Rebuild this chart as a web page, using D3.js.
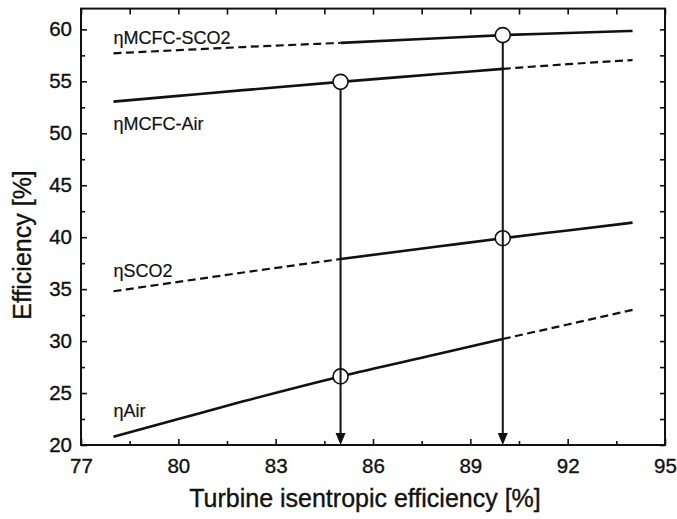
<!DOCTYPE html>
<html>
<head>
<meta charset="utf-8">
<script src="https://cdn.jsdelivr.net/npm/d3@7"></script>
<style>
  body { margin: 0; background: #fff; }
  text { font-family: "Liberation Sans", Arial, sans-serif; fill: #111; stroke: #111; stroke-width: 0.35px; }
</style>
</head>
<body>
<div id="chart"></div>
<script>
// x values shared by all curves (turbine isentropic efficiency, %)
var turbineEff = [78, 80, 82, 85, 88, 90, 92, 94];
// efficiency curves (%)
var etaMcfcSco2 = [57.7, 58.0, 58.3, 58.7, 59.15, 59.45, 59.65, 59.85];
var etaMcfcAir = [53.05, 53.6, 54.15, 54.95, 55.7, 56.2, 56.65, 57.05];
var etaSco2 = [34.8, 35.7, 36.6, 37.9, 39.1, 39.9, 40.65, 41.4];
var etaAir = [20.8, 22.5, 24.2, 26.6, 28.75, 30.2, 31.6, 33.0];
var seriesNames = ["ηMCFC-SCO2", "ηMCFC-Air", "ηSCO2", "ηAir"];
// part of each curve drawn solid (rest is dashed)
var solidFrom = [85, 78, 85, 78];
var solidTo = [94, 90, 94, 90];
// circled design points and label anchors
var markX = [90, 85, 90, 85];
var labelY = [58.6, 50.3, 36.2, 22.7];
var arrowX = [85, 90];
var xTicks = [77, 80, 83, 86, 89, 92, 95];
var yTicks = [20, 25, 30, 35, 40, 45, 50, 55, 60];

var svgWidth = 677;
var svgHeight = 519;
var margin = { top: 8.6, right: 12, bottom: 74, left: 81 };
var chartWidth = svgWidth - margin.left - margin.right;
var chartHeight = svgHeight - margin.top - margin.bottom;

var svg = d3.select("#chart").append("svg")
    .attr("width", svgWidth)
    .attr("height", svgHeight);
var chartGroup = svg.append("g")
    .attr("transform", `translate(${margin.left},${margin.top})`);

var xScale = d3.scaleLinear().domain([77, 95]).range([0, chartWidth]);
var yScale = d3.scaleLinear().domain([20, 62]).range([chartHeight, 0]);

// minor tick positions
var xMinor = d3.range(78.5, 95, 3);
var yMinor = d3.range(22.5, 62, 5);

function addAxis(axis, cls, tx, ty) {
    var g = chartGroup.append("g")
        .attr("class", cls)
        .attr("transform", `translate(${tx},${ty})`)
        .call(axis);
    g.select(".domain").remove();
    g.selectAll("line").attr("stroke", "#111").attr("stroke-width", 1.6);
    return g;
}

// bottom axis with labels, ticks pointing inward
var bottom = addAxis(d3.axisBottom(xScale).tickValues(xTicks).tickSize(-6).tickPadding(13.5), "x-axis", 0, chartHeight);
bottom.selectAll("text").attr("font-size", "20.5px");
addAxis(d3.axisBottom(xScale).tickValues(xMinor).tickSize(-4).tickFormat(""), "x-minor", 0, chartHeight);
addAxis(d3.axisTop(xScale).tickValues(xTicks.concat(xMinor)).tickSize(-6).tickFormat(""), "x-top", 0, 0);

var left = addAxis(d3.axisLeft(yScale).tickValues(yTicks).tickSize(-6).tickPadding(9), "y-axis", 0, 0);
left.selectAll("text").attr("font-size", "20.5px");
addAxis(d3.axisLeft(yScale).tickValues(yMinor).tickSize(-4).tickFormat(""), "y-minor", 0, 0);
addAxis(d3.axisRight(yScale).tickValues(yTicks.concat(yMinor)).tickSize(-5).tickFormat(""), "y-right", chartWidth, 0);

// frame
chartGroup.append("rect")
    .attr("width", chartWidth)
    .attr("height", chartHeight)
    .attr("fill", "none")
    .attr("stroke", "#111")
    .attr("stroke-width", 2);

var allSeries = [etaMcfcSco2, etaMcfcAir, etaSco2, etaAir];
var line = d3.line()
    .x(d => xScale(d.x))
    .y(d => yScale(d.y))
    .curve(d3.curveMonotoneX);

allSeries.forEach(function (vals, i) {
    var pts = turbineEff.map((x, j) => ({ x: x, y: vals[j] }));
    var solid = pts.filter(p => p.x >= solidFrom[i] && p.x <= solidTo[i]);
    var before = pts.filter(p => p.x <= solidFrom[i]);
    var after = pts.filter(p => p.x >= solidTo[i]);
    [before, after].forEach(function (seg) {
        if (seg.length < 2) return;
        chartGroup.append("path")
            .attr("d", line(seg))
            .attr("fill", "none")
            .attr("stroke", "#111")
            .attr("stroke-width", 2.2)
            .attr("stroke-dasharray", "8,4.5");
    });
    chartGroup.append("path")
        .attr("d", line(solid))
        .attr("fill", "none")
        .attr("stroke", "#111")
        .attr("stroke-width", 2.6);

    // curve label
    chartGroup.append("text")
        .attr("x", xScale(turbineEff[0]))
        .attr("y", yScale(labelY[i]))
        .attr("font-size", "18px")
        .style("stroke-width", "0.2px")
        .text(seriesNames[i]);
});

// circled points
var r = 7.5;
var marks = allSeries.map((vals, i) => ({ x: markX[i], y: vals[turbineEff.indexOf(markX[i])] }));
chartGroup.selectAll(".mark")
    .data(marks)
    .enter()
    .append("circle")
    .attr("class", "mark")
    .attr("cx", d => xScale(d.x))
    .attr("cy", d => yScale(d.y))
    .attr("r", r)
    .attr("fill", "#fff")
    .attr("stroke", "#111")
    .attr("stroke-width", 1.6);

// vertical arrows down to the x axis
arrowX.forEach(function (ax) {
    var top = d3.max(marks.filter(m => m.x === ax), m => m.y);
    var px = xScale(ax);
    var tipY = yScale(20);
    chartGroup.append("line")
        .attr("x1", px).attr("x2", px)
        .attr("y1", yScale(top) + r)
        .attr("y2", tipY - 10)
        .attr("stroke", "#111")
        .attr("stroke-width", 2);
    chartGroup.append("path")
        .attr("d", `M${px - 5},${tipY - 12}L${px + 5},${tipY - 12}L${px},${tipY}Z`)
        .attr("fill", "#111");
});

// axis titles
svg.append("text")
    .attr("text-anchor", "middle")
    .attr("x", 365)
    .attr("y", 507)
    .attr("font-size", "25px")
    .text("Turbine isentropic efficiency [%]");
svg.append("text")
    .attr("text-anchor", "middle")
    .attr("transform", "translate(31,245)rotate(-90)")
    .attr("font-size", "25px")
    .text("Efficiency [%]");
</script>
</body>
</html>
